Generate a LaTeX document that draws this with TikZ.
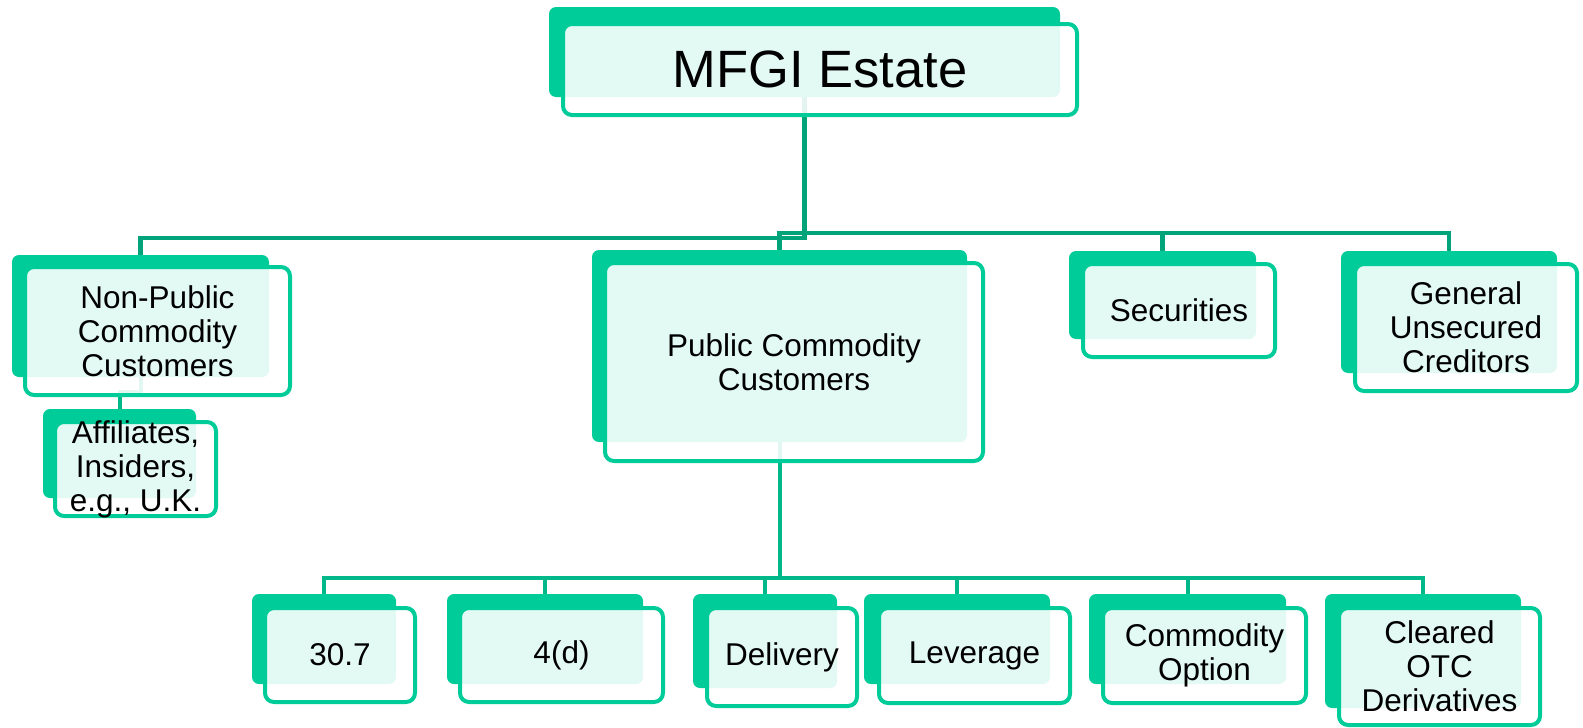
\documentclass[tikz,border=0pt]{standalone}
\usepackage{fontspec}
\setmainfont{Liberation Sans}
\pgfdeclarelayer{bg}
\pgfsetlayers{bg,main}
\definecolor{boxgreen}{RGB}{0,204,153}
\definecolor{toplinec}{RGB}{0,163,122}
\definecolor{botlinec}{RGB}{0,184,138}
\begin{document}
\begin{tikzpicture}[x=1pt,y=-1pt,
  backbox/.style={rectangle, fill=boxgreen, rounded corners=7pt, inner sep=0pt, draw=none},
  frontbox/.style={rectangle, draw=boxgreen, line width=4pt, fill=white, fill opacity=0.89, rounded corners=9pt, inner sep=0pt},
  boxtext/.style={font=\fontsize{31.5}{34}\selectfont, align=center, inner sep=0pt, text=black},
  bigtext/.style={font=\fontsize{52.5}{60}\selectfont, align=center, inner sep=0pt, text=black},
  topconn/.style={draw=toplinec, line width=4.5pt},
  botconn/.style={draw=botlinec, line width=4pt}]
\useasboundingbox (0,0) rectangle (1583,728);

% level coordinates
\coordinate (l1L) at (0,238);
\coordinate (l1R) at (0,233);
\coordinate (l2) at (0,578);
\coordinate (lA) at (0,392);

% back boxes
\node[backbox, minimum width=511pt, minimum height=90pt] (mfgi-b) at (804.5,52) {};
\node[backbox, minimum width=257pt, minimum height=122pt] (np-b) at (140.5,316) {};
\node[backbox, minimum width=153pt, minimum height=89pt] (aff-b) at (119.5,453.5) {};
\node[backbox, minimum width=375pt, minimum height=192pt] (pub-b) at (779.5,346) {};
\node[backbox, minimum width=187pt, minimum height=88pt] (sec-b) at (1162.5,295) {};
\node[backbox, minimum width=216pt, minimum height=122pt] (gen-b) at (1449,312) {};
\node[backbox, minimum width=144pt, minimum height=90pt] (n307-b) at (324,639) {};
\node[backbox, minimum width=196pt, minimum height=90pt] (n4d-b) at (545,639) {};
\node[backbox, minimum width=144pt, minimum height=94pt] (del-b) at (765,641) {};
\node[backbox, minimum width=186pt, minimum height=90pt] (lev-b) at (957,639) {};
\node[backbox, minimum width=197pt, minimum height=90pt] (opt-b) at (1187.5,639) {};
\node[backbox, minimum width=196pt, minimum height=114pt] (otc-b) at (1423,651) {};

% front frames
\node[frontbox, minimum width=514pt, minimum height=91pt] (mfgi) at (820,69.5) {};
\node[frontbox, minimum width=265pt, minimum height=128pt] (np) at (157.5,331) {};
\node[frontbox, minimum width=161pt, minimum height=94pt] (aff) at (135.5,469) {};
\node[frontbox, minimum width=378pt, minimum height=198pt] (pub) at (794,362) {};
\node[frontbox, minimum width=192pt, minimum height=93pt] (sec) at (1179,310.5) {};
\node[frontbox, minimum width=222pt, minimum height=127pt] (gen) at (1466,327.5) {};
\node[frontbox, minimum width=150pt, minimum height=94pt] (n307) at (340,655) {};
\node[frontbox, minimum width=203pt, minimum height=94pt] (n4d) at (561.5,655) {};
\node[frontbox, minimum width=150pt, minimum height=98pt] (del) at (782,657) {};
\node[frontbox, minimum width=191pt, minimum height=95pt] (lev) at (974.5,655.5) {};
\node[frontbox, minimum width=203pt, minimum height=95pt] (opt) at (1204.5,655.5) {};
\node[frontbox, minimum width=201pt, minimum height=117pt] (otc) at (1439.5,666.5) {};

% texts
\node[bigtext] (mfgi-t) at (mfgi.center) {MFGI Estate};
\node[boxtext] (np-t) at (np.center) {Non-Public\\Commodity\\Customers};
\node[boxtext] (aff-t) at (aff.center) {Affiliates,\\Insiders,\\e.g., U.K.};
\node[boxtext] (pub-t) at (pub.center) {Public Commodity\\Customers};
\node[boxtext] (sec-t) at (sec.center) {Securities};
\node[boxtext] (gen-t) at (gen.center) {General\\Unsecured\\Creditors};
\node[boxtext] (n307-t) at (n307.center) {30.7};
\node[boxtext] (n4d-t) at (n4d.center) {4(d)};
\node[boxtext] (del-t) at (del.center) {Delivery};
\node[boxtext] (lev-t) at (lev.center) {Leverage};
\node[boxtext] (opt-t) at (opt.center) {Commodity\\Option};
\node[boxtext] (otc-t) at (otc.center) {Cleared\\OTC\\Derivatives};

\begin{pgfonlayer}{bg}
\fill[white] (0,0) rectangle (1583,728);
% top level
\draw[topconn] (mfgi-b.center) -- (mfgi-b.center |- l1L) -| (np-b.center);
\draw[topconn] (pub-b.center) -- (pub-b.center |- l1R) -| (gen-b.center);
\draw[topconn] (sec-b.center |- l1R) -- (sec-b.center);
% non-public to affiliates
\draw[botconn] (np-b.center) -- (np-b.center |- lA) -| (aff-b.center);
% public to its children
\draw[botconn] (pub-b.center) -- (pub-b.center |- l2);
\draw[botconn] (n307-b.center) -- (n307-b.center |- l2) -- (otc-b.center |- l2) -- (otc-b.center);
\draw[botconn] (n4d-b.center |- l2) -- (n4d-b.center);
\draw[botconn] (del-b.center |- l2) -- (del-b.center);
\draw[botconn] (lev-b.center |- l2) -- (lev-b.center);
\draw[botconn] (opt-b.center |- l2) -- (opt-b.center);
\end{pgfonlayer}
\end{tikzpicture}
\end{document}
